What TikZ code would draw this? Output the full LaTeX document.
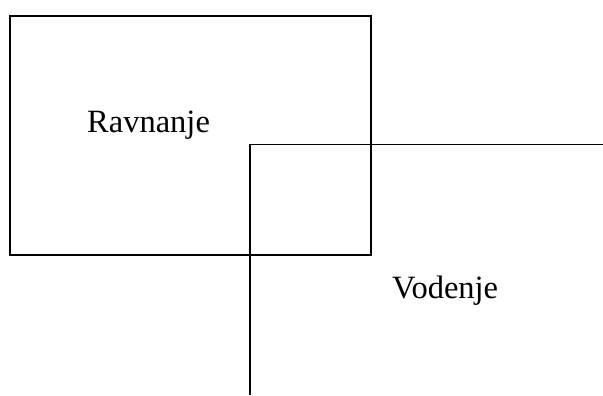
\documentclass[tikz,border=0pt]{standalone}
\usepackage{fontspec}
\setmainfont{Liberation Serif}
\usetikzlibrary{positioning}
\tikzset{
  edge/.style={draw=black, line width=1.8bp},
  lbl/.style={font=\fontsize{32.5bp}{37bp}\selectfont, inner sep=0pt, anchor=base west}
}
\begin{document}
\begin{tikzpicture}[x=1bp,y=-1bp]
  \useasboundingbox (0,0) rectangle (603,395);
  % ravnanje box
  \draw[edge] (10,16) rectangle (371,255);
  % vodenje corner
  \coordinate (corner) at (250,144.5);
  \draw[edge] (250,395) -- (corner) -- (603,144.5);
  \node[lbl] (ravnanje) at (87,132) {Ravnanje};
  \node[lbl] (vodenje) at (392,298) {Vodenje};
\end{tikzpicture}
\end{document}
